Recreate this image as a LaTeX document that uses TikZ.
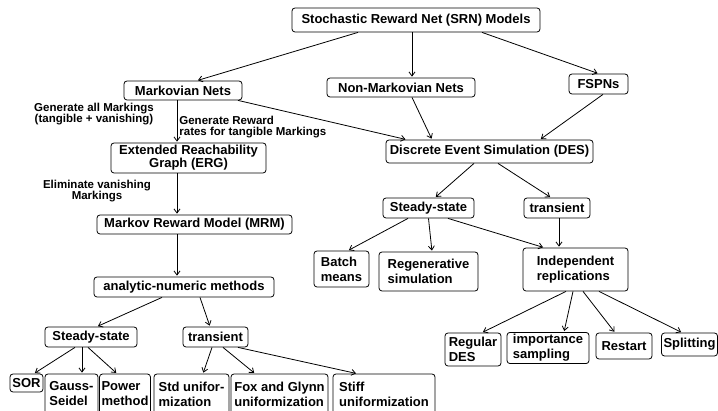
\documentclass[tikz,border=0pt]{standalone}
\usepackage{fontspec}
\setmainfont{Liberation Sans}
\usetikzlibrary{arrows.meta}
\tikzset{box/.style={draw,rounded corners=3pt,inner sep=2pt,align=left,font=\fontsize{13}{15}\selectfont\bfseries},
	lbl/.style={align=center,inner sep=0pt,font=\fontsize{11.5}{11}\selectfont\bfseries},
	>={Straight Barb[length=4pt,width=6pt]}}
\begin{document}
\begin{tikzpicture}[x=1pt,y=-1pt,line width=.8pt]
			\useasboundingbox (0,0) rectangle (718,411);
			\clip (0,0) rectangle (718,411);
			% name/x/y/width/height/text
			\foreach \n/\x/\y/\w/\h/\t in {srn/416/20/248/24/{Stochastic Reward Net (SRN) Models},mkv/183/90.5/118/19/{Markovian Nets},nmk/401/87.5/148/19/{Non-Markovian Nets},fsp/598.5/84/59/20/{FSPNs},des/489.5/151.5/207/23/{Discrete Event Simulation (DES)},mrm/194.5/224.5/195/19/{Markov Reward Model (MRM)},anm/184/287/180/20/{analytic-numeric methods},ssl/91/337/92/20/{Steady-state},trl/215.5/337/65/20/{transient},sor/26.5/383/33/18/{SOR},gau/71.5/394/53/40/{Gauss-\\Seidel},pow/125/394/50/40/{Power\\method},std/191.5/394/75/40/{Std unifor-\\mization},fox/279.5/394/97/40/{Fox and Glynn\\uniformization},stf/384/394/102/40/{Stiff\\uniformization},ssr/428.5/208/91/20/{Steady-state},trr/557/208/66/20/{transient},bat/341.5/269/55/36/{Batch\\means},reg/428.5/271.5/99/39/{Regenerative\\simulation},ind/575.5/269.5/105/43/{Independent\\replications},rds/473/349.5/56/33/{Regular\\DES},imp/548/348/82/30/{importance\\sampling},rst/624/346/56/26/{Restart},spl/689.5/344.5/55/23/{Splitting}}\node[box,minimum width=\w,minimum height=\h] (\n) at (\x,\y) {\t};
			\node[box,align=center,font=\fontsize{13}{11}\selectfont\bfseries,minimum width=155,minimum height=30] (erg) at (188.5,158) {Extended Reachability\\Graph (ERG)};
			\foreach \a/\s/\b/\e in {srn/-58/mkv/14,srn/-4/nmk/11,srn/66/fsp/0,mkv/-6/erg/-11.5,mkv/55/des/-83,nmk/11/des/-57.5,fsp/4.5/des/50.5,erg/-11.5/mrm/-17.5,mrm/-17.5/anm/-7,des/-15.5/ssr/6.5,des/8.5/trr/-6,anm/-22/ssl/6,anm/16/trl/-5.5,ssl/-16/sor/7.5,ssl/-9/gau/10.5,ssl/-3/pow/-8,trl/-3.5/std/11.5,trl/7.5/fox/-24.5,trl/22.5/stf/-27,ssr/-20.5/bat/6.5,ssr/0/reg/3.5,ssr/19.5/ind/-31.5,trr/2/ind/-16.5,ind/-9.5/rds/9,ind/-2.5/imp/16,ind/7.5/rst/-9,ind/23.5/spl/-7.5}\draw[->,shorten >=1pt] ([xshift=\s pt]\a.south)--([xshift=\e pt]\b.north);
			\node[lbl] (gen) at (94,114) {Generate all Markings\\(tangible + vanishing)};
			\node[lbl,align=left,anchor=west] (rew) at (179,127) {Generate Reward\\rates for tangible Markings};
			\node[lbl] (elim) at (97,191) {Eliminate vanishing\\Markings};
		\end{tikzpicture}
\end{document}
